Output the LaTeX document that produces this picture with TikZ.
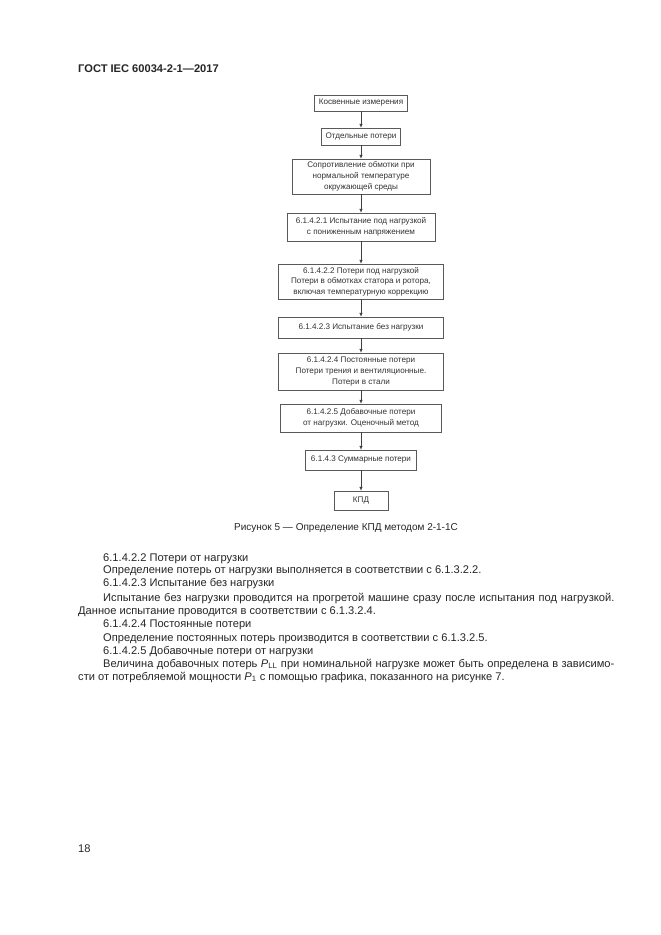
\documentclass[tikz,border=0pt]{standalone}
\usepackage{fontspec}
\setmainfont{Liberation Sans}
\usetikzlibrary{arrows.meta}
\begin{document}
\begin{tikzpicture}[x=0.9pt,y=-0.9pt,
  box/.style={draw=black!65, line width=0.5pt, inner sep=0pt, align=center,
    font=\fontsize{7.3}{9.6}\selectfont, text=black!80},
  arr/.style={draw=black!75, line width=0.5pt, -{Latex[length=3.5pt,width=3pt]}},
  body/.style={anchor=base west, inner sep=0pt, font=\fontsize{10}{12}\selectfont, text=black!85}]
\path[use as bounding box, fill=white] (0,0) rectangle (661,935);

% header
\node[body, font=\fontsize{10}{12}\selectfont\bfseries] (hdr) at (78,72) {ГОСТ IEC 60034-2-1—2017};

% flowchart boxes
\node[box, minimum width=83.7pt, minimum height=14.4pt] (b1) at (361,103) {Косвенные измерения};
\node[box, minimum width=71.1pt, minimum height=15.3pt] (b2) at (361,136.5) {Отдельные потери};
\node[box, minimum width=124.2pt, minimum height=31.5pt] (b3) at (361,176.5) {Сопротивление обмотки при\\нормальной температуре\\окружающей среды};
\node[box, minimum width=133.2pt, minimum height=25.2pt] (b4) at (361,227) {6.1.4.2.1 Испытание под нагрузкой\\с пониженным напряжением};
\node[box, minimum width=148.5pt, minimum height=31.5pt] (b5) at (361,281.5) {6.1.4.2.2 Потери под нагрузкой\\Потери в обмотках статора и ротора,\\включая температурную коррекцию};
\node[box, minimum width=148.5pt, minimum height=18.9pt] (b6) at (361,327.5) {6.1.4.2.3 Испытание без нагрузки};
\node[box, minimum width=148.5pt, minimum height=33.3pt] (b7) at (361,371.5) {6.1.4.2.4 Постоянные потери\\Потери трения и вентиляционные.\\Потери в стали};
\node[box, minimum width=144.9pt, minimum height=25.2pt] (b8) at (361,418) {6.1.4.2.5 Добавочные потери\\от нагрузки. Оценочный метод};
\node[box, minimum width=99.9pt, minimum height=18pt] (b9) at (361,460) {6.1.4.3 Суммарные потери};
\node[box, minimum width=48.6pt, minimum height=17.1pt] (b10) at (361,500.5) {КПД};

\draw[arr] (b1) -- (b2);
\draw[arr] (b2) -- (b3);
\draw[arr] (b3) -- (b4);
\draw[arr] (b4) -- (b5);
\draw[arr] (b5) -- (b6);
\draw[arr] (b6) -- (b7);
\draw[arr] (b7) -- (b8);
\draw[arr] (b8) -- (b9);
\draw[arr] (b9) -- (b10);

% caption
\node[anchor=base, inner sep=0pt, font=\fontsize{9}{11}\selectfont, text=black!85] (cap) at (346,530.5) {Рисунок 5 — Определение КПД методом 2-1-1С};

% body text
\node[body] (l1) at (103,561) {6.1.4.2.2 Потери от нагрузки};
\node[body] (l2) at (103,573) {Определение потерь от нагрузки выполняется в соответствии с 6.1.3.2.2.};
\node[body] (l3) at (103,586) {6.1.4.2.3 Испытание без нагрузки};
\node[body] (l4) at (103,601) {\makebox[460pt][s]{Испытание без нагрузки проводится на прогретой машине сразу после испытания под нагрузкой.}};
\node[body] (l5) at (78,614) {Данное испытание проводится в соответствии с 6.1.3.2.4.};
\node[body] (l6) at (103,627) {6.1.4.2.4 Постоянные потери};
\node[body] (l7) at (103,641) {Определение постоянных потерь производится в соответствии с 6.1.3.2.5.};
\node[body] (l8) at (103,654) {6.1.4.2.5 Добавочные потери от нагрузки};
\node[body] (l9) at (103,667) {\makebox[460pt][s]{Величина добавочных потерь \textit{P}\textsubscript{LL} при номинальной нагрузке может быть определена в зависимо-}};
\node[body] (l10) at (78,680) {сти от потребляемой мощности \textit{P}\textsubscript{1} с помощью графика, показанного на рисунке 7.};

% page number
\node[body] (pg) at (78,852) {18};
\end{tikzpicture}
\end{document}
